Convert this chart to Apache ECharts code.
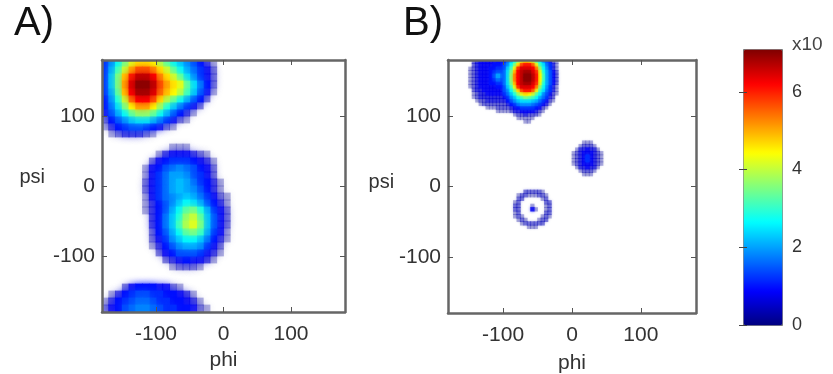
<!DOCTYPE html>
<html>
<head>
<meta charset="utf-8">
<script src="https://cdn.jsdelivr.net/npm/echarts@6/dist/echarts.min.js"></script>
<style>
html,body{margin:0;padding:0;background:#fff;}
#chart{width:833px;height:374px;}
</style>
</head>
<body>
<div id="chart"></div>
<script>
// ---------- DATA ----------
// Density per histogram bin, one string per psi row (first row = top, psi just below 180),
// one char per phi column (first char = phi just above -180).
// '.' = empty; otherwise base-36 digit d -> d * 0.2 (x10^4 counts)
const densityLevelStep = 0.2;
const binSizeA = 10;   // degrees
const binSizeB = 5;    // degrees
const densityA = [
  "69dhlnnmjgdb97531",
  "6afkpssqnkgda8642",
  "6bhouxxvqnkgc9642",
  "6bhpwzzxspnlgc852",
  "6agovyywromjfb741",
  "59ekrvvsnjgda752",
  "58chmppmieb8642",
  "47adgiigda7531",
  "2579bcca86421",
  "13567765421",
  ".1233321",
  "",
  "..........111",
  "........13444321",
  ".......2456665431",
  "......14578987542",
  "......1468aa97642",
  "......2468aba86531",
  "......2468aba97531",
  "......14689aba86421",
  "......13579bdca7531",
  "......1357adghea642",
  ".......358beikgb742",
  ".......358bfjlhb742",
  ".......257adghfa641",
  ".......2469bddb8531",
  ".......13579aa9642",
  "........2457776431",
  ".........23454431",
  "..........12221",
  "",
  "",
  "...245554421",
  ".1356776655431",
  "135678876655431",
  "2457899876655421"
];
const densityB = [
  ".......2344444555" + "8beilnmkgd97421",
  ".......2344445557" + "9dhnsuurlfc8631",
  "......12344455667" + "bfltwwwvqid9631",
  "......12344456778" + "chovxyywtlea742",
  "......12344457a88" + "ciqvxzzxumfa742",
  "......12344456878" + "ciqvxzzxumfa742",
  "......12344455668" + "chovxyywtlea742",
  "......12344444557" + "bfltwwwvqid9631",
  ".......2334444447" + "9dhnsuurlfc8631",
  ".......1233444446" + "8beilnmkgd97421",
  ".......1233333334" + "69befhgfda8632",
  "........122333333" + "579bcccba86421",
  ".........12222222" + "3568999876431",
  "...........111222" + "234566665421",
  "..............1111" + "2334444321",
  "..................." + "12232221",
  "...................." + "11111",
  "......................" + "11",
  "", "", "", "", "",
  ".......................................111",
  "......................................12221",
  ".....................................1334331",
  "....................................123444321",
  "....................................123464321",
  "....................................123464321",
  "....................................123444321",
  ".....................................1334331",
  "......................................12221",
  ".......................................111",
  "", "", "", "",
  "......................222221",
  "....................122111221",
  "....................22.....12",
  "...................12.......22",
  "...................22...1...12",
  "...................22...41..12",
  "...................12.......22",
  "...................121.....121",
  "....................121...122",
  ".....................1222222",
  ".......................111"
];
const axisTickValues = [-100, 0, 100];
const angleMin = -180, angleMax = 180;
const colorbarTicks = [0, 2, 4, 6];
const colorMax = 7.1;
const panelLabels = ['A)', 'B)'];
const xName = 'phi', yName = 'psi';
const colorbarUnit = 'x10';
const jetColors = ['#00007f','#0000ff','#007fff','#00ffff','#7fff7f','#ffff00','#ff7f00','#ff0000','#7f0000'];

// ---------- BUILD ----------
function toCells(rows, size) {
  const out = [];
  rows.forEach((row, j) => {
    const psi = angleMax - size / 2 - j * size;
    for (let i = 0; i < row.length; i++) {
      const c = row[i];
      if (c === '.') continue;
      const phi = angleMin + size / 2 + i * size;
      out.push([phi, psi, parseInt(c, 36) * densityLevelStep]);
    }
  });
  out.sort((a, b) => a[2] - b[2]);
  return out;
}

function makeRenderer(size, blur) {
  return function (params, api) {
    const phi = api.value(0), psi = api.value(1), v = api.value(2);
    const a = api.coord([phi - size / 2, psi + size / 2]);
    const b = api.coord([phi + size / 2, psi - size / 2]);
    const op = v < 0.3 ? 0.3 : v < 0.5 ? 0.45 : v < 0.7 ? 0.62 : v < 0.9 ? 0.8 : 1;
    const color = echarts.color.modifyAlpha(api.visual('color'), op);
    return {
      type: 'rect',
      shape: { x: a[0] - 0.4, y: a[1] - 0.4, width: b[0] - a[0] + 0.8, height: b[1] - a[1] + 0.8 },
      style: { fill: color, shadowBlur: blur, shadowColor: color }
    };
  };
}

const FONT = 'Liberation Sans';
const labelFont = { fontFamily: FONT, fontSize: 21, color: '#333' };
const lineStyle = { color: '#666', width: 2.5 };
const tickStyle = { show: true, inside: true, length: 5, customValues: axisTickValues, lineStyle: { color: '#555' } };

function xAxes(gridIndex, nameGap) {
  return [
    { gridIndex, type: 'value', position: 'bottom', min: angleMin, max: angleMax, z: 10,
      axisLine: { show: true, onZero: false, lineStyle },
      axisTick: tickStyle,
      axisLabel: Object.assign({ customValues: axisTickValues, margin: 12 }, labelFont),
      splitLine: { show: false },
      name: xName, nameLocation: 'middle', nameGap,
      nameTextStyle: { fontFamily: FONT, fontSize: 21, color: '#333' } },
    { gridIndex, type: 'value', position: 'top', min: angleMin, max: angleMax, z: 10,
      axisLine: { show: true, onZero: false, lineStyle },
      axisTick: tickStyle,
      axisLabel: { show: false }, splitLine: { show: false } }
  ];
}
function yAxes(gridIndex, nameGap, nameStyle) {
  return [
    { gridIndex, type: 'value', position: 'left', min: angleMin, max: angleMax, z: 10,
      axisLine: { show: true, onZero: false, lineStyle },
      axisTick: tickStyle,
      axisLabel: Object.assign({ customValues: axisTickValues, margin: 7 }, labelFont),
      splitLine: { show: false },
      name: yName, nameLocation: 'middle', nameGap, nameRotate: 0,
      nameTextStyle: Object.assign({ fontFamily: FONT, fontSize: 20, color: '#333' }, nameStyle) },
    { gridIndex, type: 'value', position: 'right', min: angleMin, max: angleMax, z: 10,
      axisLine: { show: true, onZero: false, lineStyle },
      axisTick: tickStyle,
      axisLabel: { show: false }, splitLine: { show: false } }
  ];
}

const option = {
  animation: false,
  backgroundColor: '#fff',
  grid: [
    { left: 102, top: 60, width: 243, height: 252, containLabel: false, outerBoundsMode: 'none' },
    { left: 448, top: 60, width: 248, height: 253, containLabel: false, outerBoundsMode: 'none' },
    { left: 743, top: 49, width: 39, height: 276, containLabel: false, outerBoundsMode: 'none' }
  ],
  xAxis: [].concat(
    xAxes(0, 35),
    xAxes(1, 40),
    [{ gridIndex: 2, type: 'value', min: 0, max: 1, show: false }]
  ),
  yAxis: [].concat(
    yAxes(0, 57, { verticalAlign: 'bottom', lineHeight: 18 }),
    yAxes(1, 53, { verticalAlign: 'bottom', lineHeight: 8 }),
    [
      { gridIndex: 2, type: 'value', position: 'right', min: 0, max: colorMax, z: 10,
        axisLine: { show: false },
        axisTick: { show: true, inside: true, length: 4, customValues: colorbarTicks, lineStyle: { color: '#444' } },
        axisLabel: Object.assign({ customValues: colorbarTicks, margin: 10 }, labelFont, { fontSize: 18 }),
        splitLine: { show: false } },
      { gridIndex: 2, type: 'value', position: 'left', min: 0, max: colorMax, z: 10,
        axisLine: { show: false },
        axisTick: { show: true, inside: true, length: 4, customValues: colorbarTicks, lineStyle: { color: '#444' } },
        axisLabel: { show: false }, splitLine: { show: false } }
    ]
  ),
  visualMap: {
    type: 'continuous', min: 0, max: colorMax, dimension: 2, seriesIndex: [0, 1],
    inRange: { color: jetColors },
    show: true, calculable: false, orient: 'vertical', hoverLink: false,
    left: 743, top: 49, itemWidth: 39, itemHeight: 276, padding: 0,
    text: null, showLabel: false,
    borderColor: '#777', borderWidth: 1
  },
  graphic: [
    { type: 'text', left: 14, top: 4, style: { text: panelLabels[0], font: '40px "Liberation Sans"', fill: '#111' } },
    { type: 'text', left: 403, top: 4, style: { text: panelLabels[1], font: '40px "Liberation Sans"', fill: '#111' } },
    { type: 'text', left: 792, top: 35, style: { text: colorbarUnit, font: '19px "Liberation Sans"', fill: '#444' } }
  ],
  series: [
    { type: 'custom', name: 'A', xAxisIndex: 0, yAxisIndex: 0, clip: true,
      renderItem: makeRenderer(binSizeA, 7), data: toCells(densityA, binSizeA), encode: { x: 0, y: 1 } },
    { type: 'custom', name: 'B', xAxisIndex: 2, yAxisIndex: 2, clip: true,
      renderItem: makeRenderer(binSizeB, 3), data: toCells(densityB, binSizeB), encode: { x: 0, y: 1 } }
  ]
};

const chart = echarts.init(document.getElementById('chart'), null, { renderer: 'canvas' });
chart.setOption(option);
</script>
</body>
</html>
